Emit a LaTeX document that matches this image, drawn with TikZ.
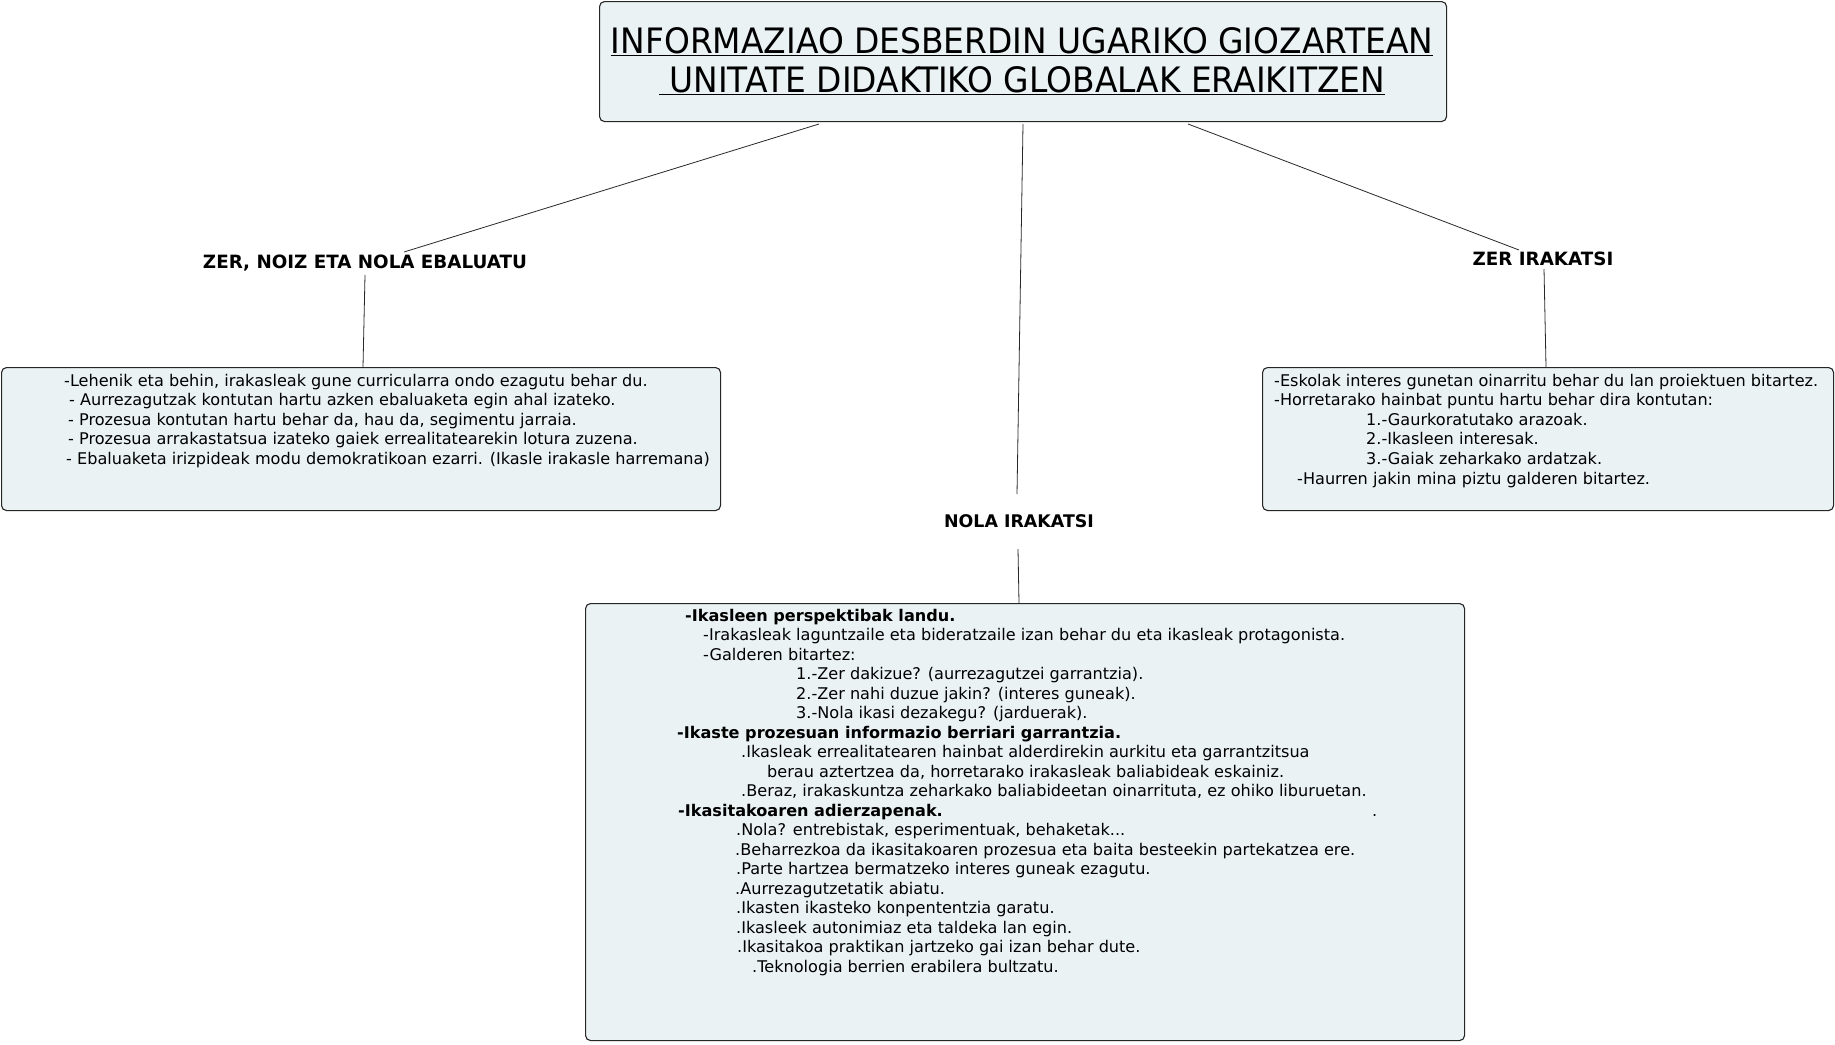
\documentclass[tikz,border=0pt]{standalone}
\usepackage{fontspec}
\setmainfont{DejaVu Sans}
\newfontfamily\titlefont[FakeStretch=0.94]{DejaVu Sans}
\definecolor{boxfill}{RGB}{234,242,244}
\definecolor{linecol}{RGB}{40,40,40}
\tikzset{
  box/.style={draw=black!85, line width=1.1pt, rounded corners=5pt, fill=boxfill, inner sep=0pt, anchor=north west},
  txt/.style={anchor=base west, inner sep=0pt, font=\fontsize{16.1}{19.6}\selectfont},
  btxt/.style={anchor=base west, inner sep=0pt, font=\fontsize{16.1}{19.6}\selectfont\bfseries},
  lbl/.style={anchor=base, inner sep=0pt, font=\fontsize{18.3}{20}\selectfont\bfseries},
  ttl/.style={anchor=base, inner sep=0pt, font=\titlefont\fontsize{35}{39}\selectfont},
  con/.style={draw=linecol, line width=0.8pt}
}
\begin{document}
\begin{tikzpicture}[x=1pt,y=-1pt]
\useasboundingbox[fill=white] (0,0) rectangle (1835,1044);
% boxes
\node[box, minimum width=847, minimum height=120] (title) at (599,1) {};
\node[box, minimum width=719, minimum height=143] (boxL) at (1,367) {};
\node[box, minimum width=571, minimum height=143] (boxR) at (1262,367) {};
\node[box, minimum width=879, minimum height=437] (boxB) at (585,603) {};
% title
\node[ttl] (ttlA) at (1022,53) {\underline{INFORMAZIAO DESBERDIN UGARIKO GIOZARTEAN}};
\node[ttl] (ttlB) at (1022,92) {\underline{\ UNITATE DIDAKTIKO GLOBALAK ERAIKITZEN}};
% labels
\node[lbl] (lblL) at (365,268) {ZER, NOIZ ETA NOLA EBALUATU};
\node[lbl, font=\fontsize{17.4}{20}\selectfont\bfseries] (lblM) at (1019,527) {NOLA IRAKATSI};
\node[lbl] (lblR) at (1543,265) {ZER IRAKATSI};
% connector end points
\coordinate (tL) at (819,124);
\coordinate (tM) at (1023,124);
\coordinate (tR) at (1188,124);
\coordinate (lLtop) at (404,252);
\coordinate (lMtop) at (1017,494);
\coordinate (lRtop) at (1519,250);
\coordinate (lLbot) at (365,275);
\coordinate (lMbot) at (1018,549);
\coordinate (lRbot) at (1544,269);
\coordinate (bLtop) at (363,367);
\coordinate (bMtop) at (1019,603);
\coordinate (bRtop) at (1546,367);
\draw[con] (tL) -- (lLtop);
\draw[con] (tM) -- (lMtop);
\draw[con] (tR) -- (lRtop);
\draw[con] (lLbot) -- (bLtop);
\draw[con] (lMbot) -- (bMtop);
\draw[con] (lRbot) -- (bRtop);
% left box text
\node[txt] (L1) at (64,386) {-Lehenik eta behin, irakasleak gune curricularra ondo ezagutu behar du.};
\node[txt] (L2) at (69,405.6) {- Aurrezagutzak kontutan hartu azken ebaluaketa egin ahal izateko.};
\node[txt] (L3) at (68,425.2) {- Prozesua kontutan hartu behar da, hau da, segimentu jarraia.};
\node[txt] (L4) at (68,444.8) {- Prozesua arrakastatsua izateko gaiek errealitatearekin lotura zuzena.};
\node[txt] (L5) at (66,464.4) {- Ebaluaketa irizpideak modu demokratikoan ezarri. (Ikasle irakasle harremana)};
% right box text
\node[txt] (R1) at (1274,386) {-Eskolak interes gunetan oinarritu behar du lan proiektuen bitartez.};
\node[txt] (R2) at (1274,405.6) {-Horretarako hainbat puntu hartu behar dira kontutan:};
\node[txt] (R3) at (1366,425.2) {1.-Gaurkoratutako arazoak.};
\node[txt] (R4) at (1366,444.8) {2.-Ikasleen interesak.};
\node[txt] (R5) at (1366,464.4) {3.-Gaiak zeharkako ardatzak.};
\node[txt] (R6) at (1297,484) {-Haurren jakin mina piztu galderen bitartez.};
% bottom box text
\node[btxt] (B1) at (685,621) {-Ikasleen perspektibak landu.};
\node[txt] (B2) at (703,640.5) {-Irakasleak laguntzaile eta bideratzaile izan behar du eta ikasleak protagonista.};
\node[txt] (B3) at (703,660) {-Galderen bitartez:};
\node[txt] (B4) at (796,679.5) {1.-Zer dakizue? (aurrezagutzei garrantzia).};
\node[txt] (B5) at (796,699) {2.-Zer nahi duzue jakin? (interes guneak).};
\node[txt] (B6) at (796,718.5) {3.-Nola ikasi dezakegu? (jarduerak).};
\node[btxt] (B7) at (677,738) {-Ikaste prozesuan informazio berriari garrantzia.};
\node[txt] (B8) at (741,757.5) {.Ikasleak errealitatearen hainbat alderdirekin aurkitu eta garrantzitsua};
\node[txt] (B9) at (767,777) {berau aztertzea da, horretarako irakasleak baliabideak eskainiz.};
\node[txt] (B10) at (741,796.5) {.Beraz, irakaskuntza zeharkako baliabideetan oinarrituta, ez ohiko liburuetan.};
\node[btxt] (B11) at (678,816) {-Ikasitakoaren adierzapenak.};
\node[txt] (B11b) at (1372,816) {.};
\node[txt] (B12) at (736,835.5) {.Nola? entrebistak, esperimentuak, behaketak...};
\node[txt] (B13) at (735,855) {.Beharrezkoa da ikasitakoaren prozesua eta baita besteekin partekatzea ere.};
\node[txt] (B14) at (736,874.5) {.Parte hartzea bermatzeko interes guneak ezagutu.};
\node[txt] (B15) at (735,894) {.Aurrezagutzetatik abiatu.};
\node[txt] (B16) at (736,913.5) {.Ikasten ikasteko konpententzia garatu.};
\node[txt] (B17) at (736,933) {.Ikasleek autonimiaz eta taldeka lan egin.};
\node[txt] (B18) at (737,952.5) {.Ikasitakoa praktikan jartzeko gai izan behar dute.};
\node[txt] (B19) at (752,972) {.Teknologia berrien erabilera bultzatu.};
\end{tikzpicture}
\end{document}
